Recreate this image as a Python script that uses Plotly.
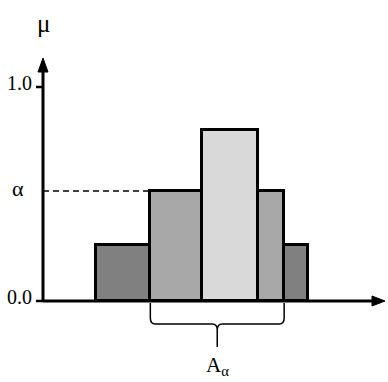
import plotly.graph_objects as go

# ---- data ----
edges = [2.0, 4.05, 6.0, 8.1, 9.1, 10.0]          # bar boundaries (x units)
heights = [0.262, 0.514, 0.80, 0.514, 0.262]      # membership values
colors = ["#808080", "#a8a8a8", "#d9d9d9", "#a8a8a8", "#808080"]
alpha = 0.514
tick_vals = [0.0, 1.0]
tick_text = ["0.0", "1.0"]
cut_lo, cut_hi = edges[1], edges[4]               # alpha-cut interval

# ---- scales (pixels per unit) ----
SX, SY = 26.5, 214.0
XR = [-43 / SX, 345 / SX]
YR = [-81 / SY, 301 / SY]
px_x = lambda p: p / SX
px_y = lambda p: p / SY

centers = [(a + b) / 2 for a, b in zip(edges[:-1], edges[1:])]
widths = [b - a for a, b in zip(edges[:-1], edges[1:])]

fig = go.Figure()
fig.add_trace(go.Bar(
    x=centers, y=heights, width=widths, base=0,
    marker=dict(color=colors, line=dict(color="black", width=3)),
    hoverinfo="skip", showlegend=False,
))

shapes = []
FAM = "Liberation Serif, Times New Roman, serif"
font = dict(family=FAM, size=20, color="black")

# axes
x_tip = px_x(342)
y_tip = px_y(243)
ah = px_x(13)
aw = px_y(5)
shapes.append(dict(type="line", x0=0, x1=x_tip - ah, y0=0, y1=0,
                   line=dict(color="black", width=3)))
shapes.append(dict(type="line", x0=0, x1=0, y0=0, y1=y_tip - px_y(13),
                   line=dict(color="black", width=3)))
shapes.append(dict(type="path",
                   path=f"M {x_tip},0 L {x_tip-ah},{aw} L {x_tip-ah},{-aw} Z",
                   fillcolor="black", line=dict(color="black", width=1)))
shapes.append(dict(type="path",
                   path=f"M 0,{y_tip} L {px_x(5)},{y_tip-px_y(14)} L {-px_x(5)},{y_tip-px_y(14)} Z",
                   fillcolor="black", line=dict(color="black", width=1)))
for v in tick_vals:
    shapes.append(dict(type="line", x0=-px_x(7), x1=0, y0=v, y1=v,
                       line=dict(color="black", width=2.5)))

# dashed alpha line
shapes.append(dict(type="line", x0=0, x1=cut_lo, y0=alpha, y1=alpha,
                   line=dict(color="black", width=1.5, dash="6px,4px")))

# brace
y0 = -px_y(2)
yh = -px_y(23)
yp = -px_y(46)
xm = (cut_lo + cut_hi) / 2
dx = px_x(5)
dy = px_y(6)
brace = (f"M {cut_lo},{y0} L {cut_lo},{yh+dy} Q {cut_lo},{yh} {cut_lo+dx},{yh} "
         f"L {xm-dx},{yh} Q {xm},{yh} {xm},{yh-dy} L {xm},{yp} "
         f"M {xm},{yh-dy} Q {xm},{yh} {xm+dx},{yh} "
         f"L {cut_hi-dx},{yh} Q {cut_hi},{yh} {cut_hi},{yh+dy} L {cut_hi},{y0}")
shapes.append(dict(type="path", path=brace, line=dict(color="black", width=1.5)))

annotations = []
for v, t in zip(tick_vals, tick_text):
    annotations.append(dict(x=-px_x(9), y=v, text=t, showarrow=False,
                            xanchor="right", yanchor="middle", yshift=4, font=font))
annotations.append(dict(x=-px_x(25), y=alpha, text="α", showarrow=False,
                        xanchor="center", yanchor="middle", yshift=3,
                        font=dict(family=FAM, size=22, color="black")))
annotations.append(dict(x=0, y=px_y(278), text="μ", showarrow=False,
                        xanchor="center", yanchor="middle",
                        font=dict(family=FAM, size=25, color="black")))
annotations.append(dict(x=xm, y=-px_y(65), text="A<sub>α</sub>", showarrow=False,
                        xanchor="center", yanchor="middle",
                        font=dict(family=FAM, size=21, color="black")))

fig.update_layout(
    width=388, height=382,
    margin=dict(l=0, r=0, t=0, b=0),
    paper_bgcolor="white", plot_bgcolor="white",
    xaxis=dict(range=XR, visible=False, fixedrange=True),
    yaxis=dict(range=YR, visible=False, fixedrange=True),
    shapes=shapes, annotations=annotations,
    barmode="overlay", bargap=0,
)
fig.write_html("out.html")
